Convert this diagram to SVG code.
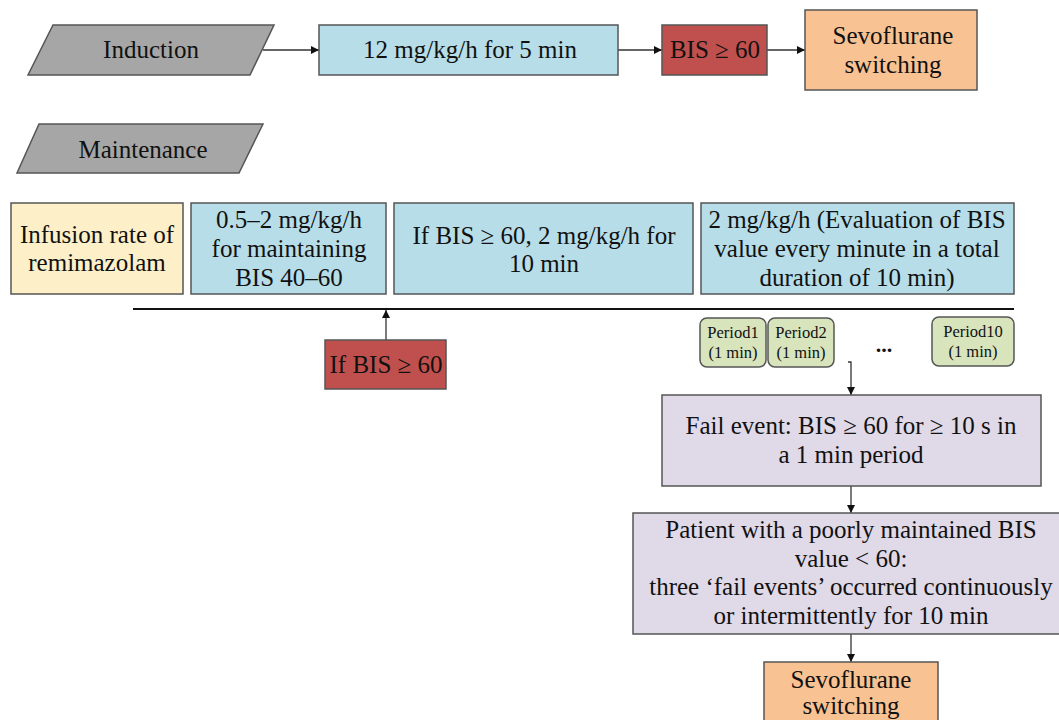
<svg xmlns="http://www.w3.org/2000/svg" width="1059" height="720" viewBox="0 0 1059 720">
<style>
text{font-size:25px;fill:#111;text-anchor:middle}
.s{stroke:#555;stroke-width:1.5}
.gray{fill:#a6a6a6}
.blue{fill:#b7dde8}
.red{fill:#c0504d}
.orange{fill:#f9c293}
.yellow{fill:#fdf0c9}
.lav{fill:#e0d9e8}
.green{fill:#d8e4bc}
.p{font-size:16.5px}
.c{stroke:#333;stroke-width:1.3;fill:none}
</style>
<defs>
<marker id="ah" viewBox="0 0 10 10" refX="10" refY="5" markerWidth="8" markerHeight="8" markerUnits="userSpaceOnUse" orient="auto"><path d="M0,0 L10,5 L0,10 z" fill="#111"/></marker>
</defs>
<rect width="1059" height="720" fill="#fff"/>
<g font-family="Liberation Serif, DejaVu Serif, serif">
<g id="connectors">
<line class="c" x1="263" y1="50" x2="319" y2="50" marker-end="url(#ah)"/>
<line class="c" x1="618" y1="50" x2="662" y2="50" marker-end="url(#ah)"/>
<line class="c" x1="767" y1="50" x2="805" y2="50" marker-end="url(#ah)"/>
<line x1="133" y1="309" x2="1014" y2="309" stroke="#111" stroke-width="2"/>
<line class="c" x1="386" y1="340" x2="386" y2="310" marker-end="url(#ah)"/>
<path class="c" d="M848,362 H851 V395" marker-end="url(#ah)"/>
<line class="c" x1="851" y1="486" x2="851" y2="513" marker-end="url(#ah)"/>
<line class="c" x1="851" y1="634" x2="851" y2="662" marker-end="url(#ah)"/>
</g>
<g id="induction"><polygon class="gray s" points="53,25 274,25 250,75 28,75"/><text x="151" y="58">Induction</text></g>
<g id="ind-dose"><rect class="blue s" x="319" y="25" width="299" height="50"/><text x="470" y="58">12 mg/kg/h for 5 min</text></g>
<g id="ind-bis"><rect class="red s" x="662" y="25" width="105" height="50"/><text x="715" y="58">BIS ≥ 60</text></g>
<g id="sevo1"><rect class="orange s" x="805" y="10" width="172" height="80"/><text x="893" y="44">Sevoflurane</text><text x="893" y="73">switching</text></g>
<g id="maintenance"><polygon class="gray s" points="39,124 263,124 239,173 17,173"/><text x="143" y="158">Maintenance</text></g>
<g id="infusion"><rect class="yellow s" x="11" y="203" width="172" height="91"/><text x="97" y="243">Infusion rate of</text><text x="97" y="271">remimazolam</text></g>
<g id="maint-dose"><rect class="blue s" x="191" y="203" width="195" height="91"/><text x="289" y="228">0.5–2 mg/kg/h</text><text x="289" y="257">for maintaining</text><text x="289" y="286">BIS 40–60</text></g>
<g id="if-dose"><rect class="blue s" x="394" y="203" width="299" height="91"/><text x="544" y="244">If BIS ≥ 60, 2 mg/kg/h for</text><text x="544" y="272">10 min</text></g>
<g id="eval"><rect class="blue s" x="701" y="203" width="313" height="91"/><text x="857" y="228">2 mg/kg/h (Evaluation of BIS</text><text x="857" y="257">value every minute in a total</text><text x="857" y="286">duration of 10 min)</text></g>
<g id="if-bis"><rect class="red s" x="325" y="340" width="121" height="49"/><text x="386" y="373">If BIS ≥ 60</text></g>
<g id="period1"><rect class="green s" x="700" y="318" width="66" height="49" rx="7"/><text class="p" x="733" y="338">Period1</text><text class="p" x="733" y="358">(1 min)</text></g>
<g id="period2"><rect class="green s" x="768" y="318" width="66" height="49" rx="7"/><text class="p" x="801" y="338">Period2</text><text class="p" x="801" y="358">(1 min)</text></g>
<g id="dots"><text x="884" y="352" style="font-size:22px;font-weight:bold">...</text></g>
<g id="period10"><rect class="green s" x="932" y="317" width="82" height="49" rx="7"/><text class="p" x="973" y="337">Period10</text><text class="p" x="973" y="357">(1 min)</text></g>
<g id="fail"><rect class="lav s" x="662" y="395" width="379" height="91"/><text x="851" y="434">Fail event: BIS ≥ 60 for ≥ 10 s in</text><text x="851" y="463">a 1 min period</text></g>
<g id="patient"><rect class="lav s" x="633" y="513" width="430" height="121"/><text x="851" y="538">Patient with a poorly maintained BIS</text><text x="851" y="567">value &lt; 60:</text><text x="851" y="595">three ‘fail events’ occurred continuously</text><text x="851" y="624">or intermittently for 10 min</text></g>
<g id="sevo2"><rect class="orange s" x="764" y="662" width="174" height="70"/><text x="851" y="688">Sevoflurane</text><text x="851" y="714">switching</text></g>
</g>
</svg>
